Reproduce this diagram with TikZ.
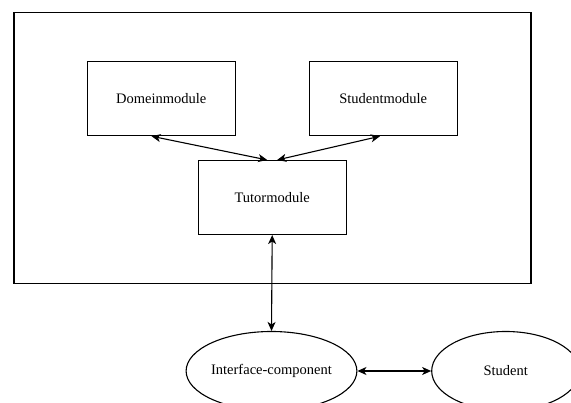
\documentclass[tikz,border=0pt]{standalone}
\usepackage{fontspec}
\setmainfont{Liberation Serif}
\usetikzlibrary{arrows.meta}
\usetikzlibrary{shapes.geometric,calc}

\tikzset{
	module/.style={draw, line width=1.1pt, minimum width=148pt, minimum height=74pt, inner sep=0pt, font=\fontsize{14.5}{16}\selectfont},
	comp/.style={draw, ellipse, line width=1.1pt, minimum width=148pt, minimum height=79pt, inner sep=0pt, font=\fontsize{14.5}{16}\selectfont},
	link/.style={line width=1.1pt, {Stealth[length=9pt,width=8pt,inset=2.5pt]}-{Stealth[length=9pt,width=8pt,inset=2.5pt]}}
}

\begin{document}
\begin{tikzpicture}[x=1pt,y=-1pt]
	\path[use as bounding box, clip] (0,0) rectangle (571,403);
	\fill[white] (0,0) rectangle (571,403);
	
	\node[draw, line width=1.1pt, minimum width=517pt, minimum height=270.6pt, inner sep=0pt] (systeem) at (272.5,148) {};
	
	\node[module] (domein) at (161.3,98.7) {Domeinmodule};
	\node[module] (studmod) at (383.2,98.7) {Studentmodule};
	\node[module] (tutor) at (272.2,197.5) {Tutormodule};
	
	\node[comp] (iface) at (271.5,371) {Interface-component};
	\node[comp] (student) at (505.7,371) {Student};
	
	\coordinate (domout) at ($(domein.south west)!0.435!(domein.south east)$);
	\coordinate (studout) at ($(studmod.south west)!0.478!(studmod.south east)$);
	\coordinate (tutinL) at ($(tutor.north)+(-5,0)$);
	\coordinate (tutinR) at ($(tutor.north)+(5,0)$);
	
	\draw[link] (domout) -- (tutinL);
	\draw[link] (studout) -- (tutinR);
	\draw[link] (tutor.south) -- (iface.north);
	\draw[link] (iface.east) -- (student.west);
	
\end{tikzpicture}
\end{document}
